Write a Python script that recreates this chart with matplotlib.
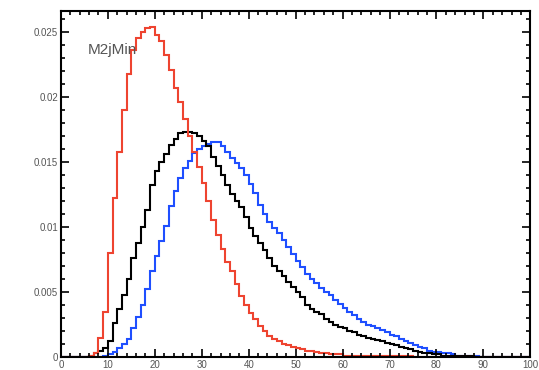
import numpy as np
import matplotlib
matplotlib.use('Agg')
import matplotlib.pyplot as plt
from matplotlib.ticker import MultipleLocator

plt.rcParams['font.family'] = ['Liberation Sans', 'DejaVu Sans']

# bin edges 0..100, width 1
edges = np.arange(0, 101)

# red histogram
red = ([0] * 6 +
       [0.0001, 0.0003, 0.0015, 0.0035, 0.0080, 0.0122, 0.0158, 0.0190, 0.0218, 0.0236,
        0.0245, 0.0250, 0.0253, 0.0254, 0.0248, 0.0243, 0.0232, 0.0221, 0.0207, 0.0196,
        0.0183, 0.0170, 0.0158, 0.0146, 0.0134, 0.0120, 0.0105, 0.0094, 0.0083, 0.0073,
        0.0066, 0.0056, 0.0047, 0.0040, 0.0034, 0.0029, 0.0024, 0.0020, 0.0016, 0.0014,
        0.0012, 0.0010, 0.0009, 0.0008, 0.0007, 0.0006, 0.0005, 0.0005, 0.0004, 0.0003,
        0.0003, 0.0002, 0.0002, 0.0002] +
       [0.0001] * 15 +
       [0] * 25)

# black histogram
black = ([0] * 6 +
         [0.0001, 0.0003, 0.0005, 0.0007, 0.0012, 0.0026, 0.0037, 0.0048, 0.0060, 0.0076,
          0.0088, 0.0100, 0.0113, 0.0132, 0.0143, 0.0150, 0.0156, 0.0163, 0.0168, 0.0172,
          0.0173, 0.0173, 0.0172, 0.0170, 0.0166, 0.0162, 0.0154, 0.0147, 0.0140, 0.0132,
          0.0125, 0.0120, 0.0115, 0.0108, 0.0099, 0.0093, 0.0088, 0.0082, 0.0076, 0.0070,
          0.0066, 0.0062, 0.0058, 0.0054, 0.0050, 0.0046, 0.0040, 0.0037, 0.0035, 0.0033,
          0.0029, 0.0027, 0.0025, 0.0023, 0.0022, 0.0020, 0.0019, 0.0017, 0.0016, 0.0015,
          0.0014, 0.0013, 0.0012, 0.0011, 0.0010, 0.0009, 0.0008, 0.0007, 0.0006, 0.0005,
          0.0004, 0.0003, 0.0003, 0.0002, 0.0002] +
         [0.0001] * 7 +
         [0] * 12)

# blue histogram
blue = ([0] * 9 +
        [0.0001, 0.0002, 0.0004, 0.0007, 0.0010, 0.0014, 0.0022, 0.0031, 0.0040, 0.0052,
         0.0066, 0.0078, 0.0089, 0.0101, 0.0116, 0.0128, 0.0138, 0.0145, 0.0151, 0.0157,
         0.0160, 0.0162, 0.0164, 0.0165, 0.0165, 0.0162, 0.0158, 0.0153, 0.0149, 0.0145,
         0.0140, 0.0133, 0.0126, 0.0117, 0.0110, 0.0104, 0.0099, 0.0095, 0.0090, 0.0085,
         0.0079, 0.0074, 0.0069, 0.0064, 0.0060, 0.0057, 0.0053, 0.0050, 0.0048, 0.0044,
         0.0041, 0.0038, 0.0035, 0.0032, 0.0029, 0.0027, 0.0025, 0.0024, 0.0022, 0.0021,
         0.0019, 0.0017, 0.0016, 0.0014, 0.0012, 0.0011, 0.0009, 0.0008, 0.0007, 0.0005,
         0.0004, 0.0004, 0.0003, 0.0003, 0.0002] +
        [0.0001] * 5 +
        [0] * 11)

xticks = np.arange(0, 101, 10)
yticks = [0, 0.005, 0.01, 0.015, 0.02, 0.025]
ytick_labels = ['0', '0.005', '0.01', '0.015', '0.02', '0.025']

fig = plt.figure(figsize=(5.39, 3.70), dpi=100)
ax = fig.add_axes([0.113, 0.035, 0.871, 0.935])

ax.stairs(blue, edges, color='#1f4fff', lw=1.5, baseline=None)
ax.stairs(black, edges, color='black', lw=1.5, baseline=None)
ax.stairs(red, edges, color='#ee4430', lw=1.5, baseline=None)

ax.set_xlim(0, 100)
ax.set_ylim(0, 0.0266)
ax.set_xticks(xticks)
ax.set_yticks(yticks)
ax.set_yticklabels(ytick_labels)
ax.xaxis.set_minor_locator(MultipleLocator(2))
ax.yaxis.set_minor_locator(MultipleLocator(0.001))
ax.tick_params(which='both', direction='in', top=True, right=True,
               labelsize=7, labelcolor='#555555', width=1.2)
ax.tick_params(which='major', length=6, pad=2)
ax.tick_params(which='minor', length=3)
for sp in ax.spines.values():
    sp.set_linewidth(1.5)

ax.text(5.7, 0.0236, 'M2jMin', fontsize=11, color='#555555', va='center', ha='left')

fig.savefig('out.png', dpi=100)
